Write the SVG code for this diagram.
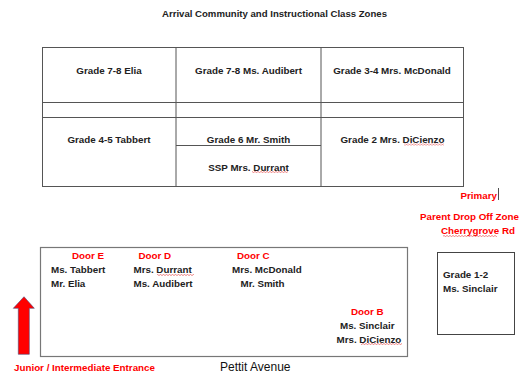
<svg xmlns="http://www.w3.org/2000/svg" width="526" height="374" viewBox="0 0 526 374">
<defs>
<style>
text{font-family:"Liberation Sans",Arial,sans-serif;font-weight:bold;font-size:9.8px;fill:#222}
.c{text-anchor:middle}
.r{fill:#ff0000}
.e{text-anchor:end}
.ln{stroke:#555;stroke-width:1;fill:none}
</style>
<pattern id="squig" width="3" height="2" patternUnits="userSpaceOnUse">
<path d="M0 1.5 L1.5 0.5 L3 1.5" stroke="#e03030" stroke-width="0.6" fill="none"/>
</pattern>
</defs>
<rect width="526" height="374" fill="#fff"/>
<text x="274.5" y="16.5" class="c" style="font-size:9.6px">Arrival Community and Instructional Class Zones</text>

<g id="table">
<rect x="42.5" y="47.5" width="421" height="139" class="ln"/>
<line x1="176" y1="47.5" x2="176" y2="186.5" class="ln"/>
<line x1="321" y1="47.5" x2="321" y2="186.5" class="ln"/>
<line x1="42.5" y1="102.5" x2="463.5" y2="102.5" class="ln"/>
<line x1="42.5" y1="117.5" x2="463.5" y2="117.5" class="ln"/>
<line x1="176" y1="145.5" x2="321" y2="145.5" class="ln"/>
</g>
<g id="cell-elia"><text x="109" y="73.5" class="c">Grade 7-8 Elia</text></g>
<g id="cell-audibert"><text x="248.5" y="73.5" class="c">Grade 7-8 Ms. Audibert</text></g>
<g id="cell-mcdonald"><text x="392" y="73.5" class="c">Grade 3-4 Mrs. McDonald</text></g>
<g id="cell-tabbert"><text x="109" y="142.5" class="c">Grade 4-5 Tabbert</text></g>
<g id="cell-smith"><text x="248.5" y="142.5" class="c">Grade 6 Mr. Smith</text></g>
<g id="cell-durrant"><text x="248.5" y="170.5" class="c">SSP Mrs. Durrant</text>
<rect x="252" y="171" width="36" height="2" fill="url(#squig)"/></g>
<g id="cell-dicienzo"><text x="392.5" y="142.5" class="c">Grade 2 Mrs. DiCienzo</text>
<rect x="404" y="143.5" width="40" height="2" fill="url(#squig)"/></g>

<g id="primary-zone">
<text x="497" y="198.5" class="r e">Primary</text>
<line x1="498.5" y1="188" x2="498.5" y2="200" stroke="#222" stroke-width="0.8"/>
<text x="519" y="219.5" class="r e">Parent Drop Off Zone</text>
<text x="515" y="234" class="r e">Cherrygrove Rd</text>
<rect x="443" y="235" width="54" height="2" fill="url(#squig)"/>
</g>

<g id="grade12">
<rect x="437.5" y="252.5" width="77" height="82" fill="none" stroke="#444" stroke-width="1"/>
<text x="443" y="277.5">Grade 1-2</text>
<text x="443" y="292">Ms. Sinclair</text>
</g>

<g id="building">
<rect x="40.5" y="247.5" width="367" height="109" fill="none" stroke="#777" stroke-width="1.2"/>
<text x="72" y="259" class="r">Door E</text>
<text x="51" y="273">Ms. Tabbert</text>
<text x="51" y="287">Mr. Elia</text>
<text x="138.5" y="259" class="r">Door D</text>
<text x="133.5" y="273">Mrs. Durrant</text>
<rect x="157" y="274" width="37" height="2" fill="url(#squig)"/>
<text x="133.5" y="287">Ms. Audibert</text>
<text x="237" y="259" class="r">Door C</text>
<text x="232" y="273">Mrs. McDonald</text>
<text x="240.5" y="287">Mr. Smith</text>
<text x="351" y="314.5" class="r">Door B</text>
<text x="340" y="328.5">Ms. Sinclair</text>
<text x="336.5" y="342.5">Mrs. DiCienzo</text>
<rect x="361" y="343" width="41" height="2" fill="url(#squig)"/>
</g>

<g id="entrance">
<path d="M24 296.7 L34.3 308.3 L29.3 308.3 L29.3 354.3 L18.3 354.3 L18.3 308.3 L13.3 308.3 Z" fill="#ff0000" stroke="#4a4a7a" stroke-width="0.6"/>
<text x="14" y="370.5" class="r">Junior / Intermediate Entrance</text>
</g>
<text x="220" y="370.5" style="font-size:12px;font-weight:normal;fill:#111">Pettit Avenue</text>
</svg>
